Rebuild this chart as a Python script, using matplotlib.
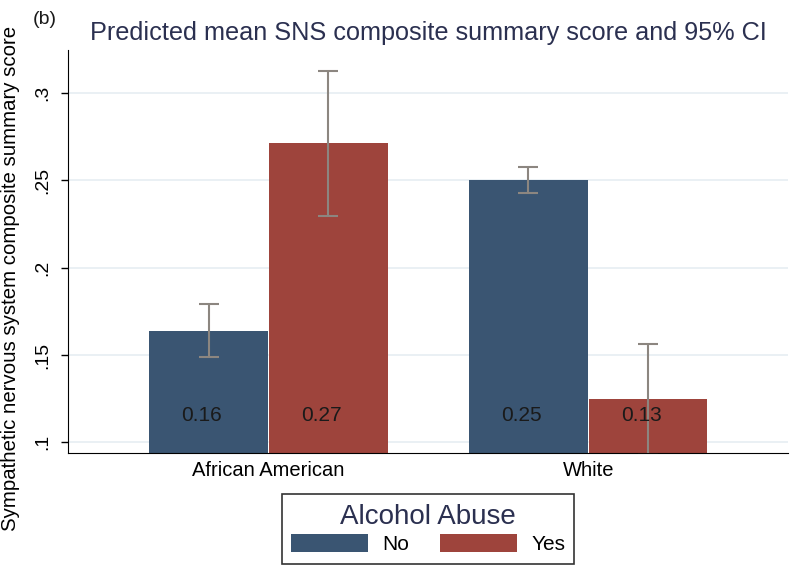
import matplotlib
matplotlib.use("Agg")
import matplotlib.pyplot as plt
import numpy as np
from matplotlib.patches import Patch

plt.rcParams['font.family'] = ['Liberation Sans', 'DejaVu Sans']

categories = ["African American", "White"]
series_names = ["No", "Yes"]
means_no = [0.1636, 0.2500]
means_yes = [0.2716, 0.1249]
ci_low_no = [0.1487, 0.2428]
ci_high_no = [0.1790, 0.2575]
ci_low_yes = [0.2298, 0.0930]
ci_high_yes = [0.3126, 0.1565]
bar_labels_no = ["0.16", "0.25"]
bar_labels_yes = ["0.27", "0.13"]
yticks = [0.1, 0.15, 0.2, 0.25, 0.3]
ytick_labels = [".1", ".15", ".2", ".25", ".3"]

navy = "#3a5572"
maroon = "#9e443c"
errc = "#8c8680"
txtc = "#2b3050"

fig = plt.figure(figsize=(8, 5.75), dpi=100)
ax = fig.add_axes([0.085, 0.2122, 0.90, 0.7008])

x = np.arange(len(categories))
w = 0.375
for off, means, lo, hi, col, labs in [
    (-w / 2, means_no, ci_low_no, ci_high_no, navy, bar_labels_no),
    (w / 2, means_yes, ci_low_yes, ci_high_yes, maroon, bar_labels_yes),
]:
    xs = x + off
    ax.bar(xs, means, width=w * 0.99, color=col, zorder=2, linewidth=0)
    m = np.array(means)
    yerr = np.vstack([m - np.array(lo), np.array(hi) - m])
    ax.errorbar(xs, m, yerr=yerr, fmt='none', ecolor=errc, elinewidth=1.5,
                capsize=7, capthick=1.5, zorder=3)
    for xi, lab in zip(xs, labs):
        ax.annotate(lab, (xi, 0.1152), xytext=(-5, 0), textcoords='offset points',
                    ha='center', va='center', fontsize=15, color='#1a1a1a',
                    zorder=4)

ax.set_xlim(-0.627, 1.625)
ax.set_ylim(0.0939, 0.3246)
ax.set_yticks(yticks)
ax.set_yticklabels(ytick_labels, rotation=90, va='center', fontsize=14)
ax.set_xticks(x)
ax.set_xticklabels(categories, fontsize=14.5)
ax.tick_params(axis='x', length=0, pad=6)
ax.tick_params(axis='y', length=5, width=1, pad=7)
ax.grid(axis='y', color='#e6eef2', linewidth=1.2, zorder=0)
ax.set_axisbelow(True)
for s in ['top', 'right']:
    ax.spines[s].set_visible(False)
ax.spines['left'].set_color('black')
ax.spines['bottom'].set_color('black')
ax.set_ylabel("Sympathetic nervous system composite summary score", fontsize=14.7)
ax.yaxis.set_label_coords(-0.0665, 0.434)

fig.text(0.535, 0.943, "Predicted mean SNS composite summary score and 95% CI",
         ha='center', va='center', fontsize=18.2, color=txtc)
fig.text(0.041, 0.966, "(b)", ha='left', va='center', fontsize=14, color='#1a1a1a')

handles = [Patch(facecolor=navy, label=series_names[0]),
           Patch(facecolor=maroon, label=series_names[1])]
leg = fig.legend(handles=handles, loc='center', bbox_to_anchor=(0.535, 0.08),
                 ncol=2, frameon=True, fancybox=False, edgecolor='black',
                 title="Alcohol Abuse", title_fontsize=20, fontsize=15,
                 handlelength=3.7, handleheight=0.96, columnspacing=1.5,
                 handletextpad=0.67, borderpad=0.45, labelspacing=0.2)
leg.get_title().set_color(txtc)
leg.get_frame().set_linewidth(1.2)

fig.savefig("out.png", dpi=100)
